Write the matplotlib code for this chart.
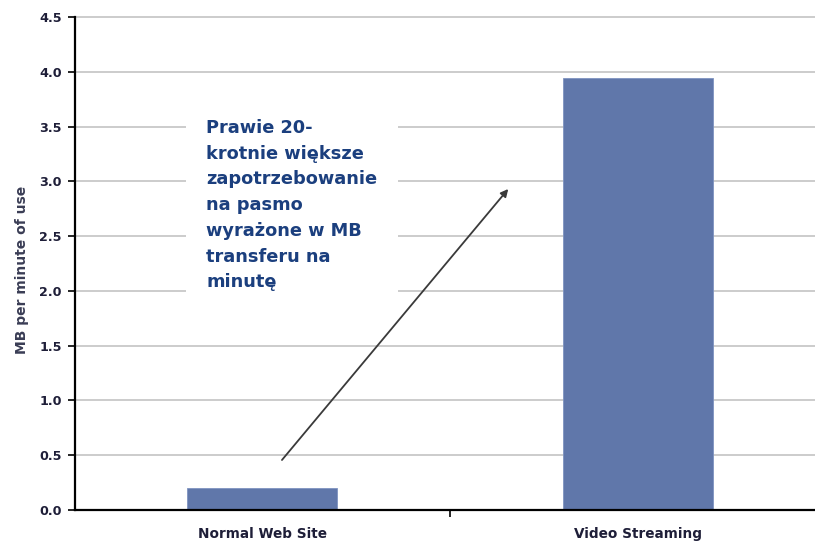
import matplotlib
matplotlib.use("Agg")
import matplotlib.pyplot as plt
from matplotlib.patches import Rectangle

categories = ["Normal Web Site", "Video Streaming"]
values = [0.20, 3.94]
yticks = [0.0, 0.5, 1.0, 1.5, 2.0, 2.5, 3.0, 3.5, 4.0, 4.5]
ylabel = "MB per minute of use"
note_lines = ["Prawie 20-", "krotnie większe", "zapotrzebowanie",
              "na pasmo", "wyrażone w MB", "transferu na", "minutę"]

W, H = 815, 541
fig = plt.figure(figsize=(W / 100, H / 100), dpi=100)
plt.rcParams['font.family'] = ['DejaVu Sans']

left_px, right_px, top_px, bot_px = 74.5, 825.5, 17, 510
ax = fig.add_axes([left_px / W, 1 - bot_px / H, (right_px - left_px) / W, (bot_px - top_px) / H])

bar_color = '#6077AA'
x = list(range(len(categories)))
ax.bar(x, values, width=0.4, color=bar_color, edgecolor='#7f93c0', linewidth=0.6, zorder=3)

ax.set_xlim(-0.5, 1.5)
ax.set_ylim(0, 4.5)
ax.set_yticks(yticks)
ax.set_yticklabels([f"{v:.1f}" for v in yticks], fontsize=9.2, fontweight='bold', color='#1e1e38')
ax.yaxis.grid(True, color='#c8c8c8', linewidth=1.3, zorder=0)
for gl in ax.get_ygridlines():
    gl.set_clip_on(False)
ax.set_axisbelow(True)

# x axis: middle separator tick, labels at category centers
ax.set_xticks([0.5])
ax.set_xticklabels([''])
ax.set_xticks(x, minor=True)
ax.set_xticklabels(categories, minor=True, fontsize=9.8, fontweight='bold', color='#1e1e38')
ax.tick_params(axis='x', which='major', length=5, width=1.2, direction='out', color='black')
ax.tick_params(axis='x', which='minor', length=0, pad=12)
ax.tick_params(axis='y', length=5, width=1.2, direction='out', color='black', pad=4)

for s in ['top', 'right']:
    ax.spines[s].set_visible(False)
ax.spines['left'].set_linewidth(1.6)
ax.spines['bottom'].set_linewidth(1.6)
ax.spines['left'].set_zorder(4)
ax.spines['bottom'].set_zorder(4)

fig.text(22 / W, 1 - 270 / H, ylabel, rotation=90, ha='center', va='center',
         fontsize=10, fontweight='bold', color='#3a3d55')

# white note box covering gridlines
def px2data(px, py):
    xd = (px - 262) / 375.5
    yd = (bot_px - py) / ((bot_px - top_px) / 4.5)
    return xd, yd

x0, y0 = px2data(186, 302)
x1, y1 = px2data(398, 112)
ax.add_patch(Rectangle((x0, y0), x1 - x0, y1 - y0, facecolor='white', edgecolor='none', zorder=2))

# arrow
tx, ty = px2data(281.7, 460)
hx, hy = px2data(508, 189)
ax.annotate('', xy=(hx, hy), xytext=(tx, ty),
            arrowprops=dict(arrowstyle='-|>', color='#3a3a3a', lw=1.3, mutation_scale=11,
                            shrinkA=0, shrinkB=0), zorder=5)

for i, line in enumerate(note_lines):
    fig.text(206 / W, 1 - (133 + 25.7 * i) / H, line, ha='left', va='baseline',
             fontsize=12.8, fontweight='bold', color='#1B3F7E')

fig.savefig('out.png', dpi=100)
